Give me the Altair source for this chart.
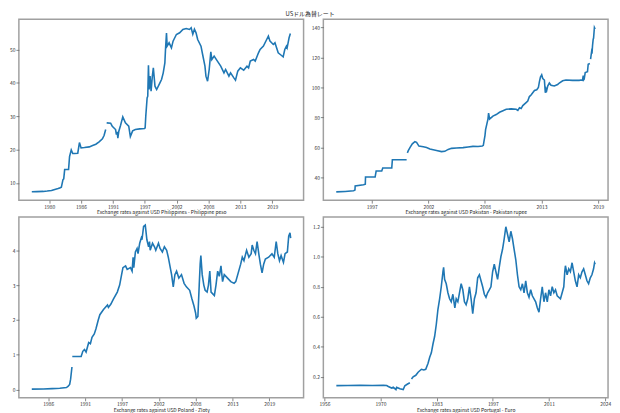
import altair as alt
import pandas as pd

# ---------------- data ----------------
# Philippines - Philippine peso
ph_year_a = [1977.96, 1978.81, 1979.94, 1980.6, 1981.35, 1981.63, 1982.48, 1982.76, 1983.04, 1983.32,
             1983.45, 1983.61, 1984.28, 1984.45, 1984.74, 1985.0, 1985.30, 1985.86, 1986.15, 1986.43,
             1987.0, 1987.84, 1988.41, 1988.97, 1989.53, 1990.10, 1990.38, 1990.66]
ph_val_a = [7.35, 7.38, 7.45, 7.55, 7.7, 7.9, 8.3, 8.5, 8.7, 11.0,
            11.2, 14.0, 14.0, 17.9, 19.9, 18.8, 18.8, 18.9, 22.1, 20.5,
            20.6, 20.8, 21.2, 21.6, 22.3, 23.2, 24.2, 26.0]
ph_year_b = [1990.83, 1991.51, 1991.79, 1992.36, 1992.5, 1992.64, 1992.75, 1992.92, 1993.21, 1993.60,
             1994.05, 1994.62, 1994.90, 1995.29, 1995.75, 1996.5, 1997.33, 1997.44, 1997.55, 1997.78,
             1997.89, 1998.01, 1998.12, 1998.29, 1998.46, 1998.68, 1998.85, 1999.13, 1999.42, 1999.98,
             2000.26, 2000.55, 2000.83, 2000.94, 2001.11, 2001.22, 2001.56, 2001.96, 2002.24, 2002.81,
             2003.37, 2003.93, 2004.50, 2005.06, 2005.35, 2005.63, 2005.91, 2006.19, 2006.47, 2007.04,
             2007.32, 2007.72, 2007.89, 2008.17, 2008.45, 2008.73, 2008.90, 2009.30, 2009.86, 2010.43,
             2010.99, 2011.27, 2011.84, 2012.12, 2012.69, 2012.97, 2013.36, 2013.81, 2014.38, 2014.94,
             2015.22, 2015.51, 2016.07, 2016.36, 2016.92, 2017.20, 2017.77, 2018.33, 2018.62, 2018.90,
             2019.18, 2019.46, 2019.75, 2020.03, 2020.31, 2020.88, 2021.16, 2021.44, 2021.72, 2021.84,
             2022.01, 2022.18, 2022.40]
ph_val_b = [28.0, 27.9, 27.0, 26.0, 24.5, 25.3, 23.4, 25.5, 27.2, 29.8,
            28.0, 27.0, 23.9, 25.6, 26.0, 26.2, 26.3, 26.5, 30.0, 35.5,
            36.0, 45.3, 38.0, 42.0, 37.5, 42.0, 44.5, 39.0, 38.0, 40.0,
            41.0, 43.0, 46.0, 50.0, 54.9, 51.0, 52.0, 50.5, 52.5, 54.5,
            55.0, 56.0, 56.3, 56.0, 56.5, 54.6, 56.1, 55.0, 53.0, 51.0,
            48.5, 45.0, 42.0, 40.5, 44.0, 49.3, 47.0, 48.0, 46.5, 45.0,
            43.0, 44.0, 42.0, 43.0, 41.5, 40.8, 43.5, 44.5, 43.8, 45.0,
            44.5, 46.5, 47.0, 46.5, 49.0, 50.0, 51.0, 53.0, 54.0, 52.5,
            52.0, 51.5, 52.0, 50.5, 49.0, 48.2, 47.8, 50.0, 51.0, 50.5,
            52.0, 53.5, 54.8]

# Pakistan - Pakistan rupee
pk_year_a = [1993.94, 1994.8, 1995.61, 1995.75, 1995.77, 1996.58, 1996.75, 1996.77, 1997.70, 1997.80,
             1998.34, 1998.44, 1999.31, 1999.37, 2000.75]
pk_val_a = [30.5, 30.8, 31.2, 31.8, 34.5, 35.2, 35.6, 40.4, 40.4, 44.4,
            44.4, 46.4, 46.4, 51.9, 51.9]
pk_year_b = [2000.82, 2000.91, 2001.07, 2001.30, 2001.55, 2001.71, 2001.94, 2002.36, 2002.68, 2003.00,
             2003.32, 2003.64, 2004.12, 2004.44, 2004.77, 2005.09, 2005.57, 2006.21, 2006.69, 2007.17,
             2007.66, 2008.07, 2008.17, 2008.23, 2008.33, 2008.39, 2008.52, 2008.62, 2008.68, 2008.78,
             2008.94, 2009.10, 2009.42, 2009.74, 2010.07, 2010.39, 2010.87, 2011.35, 2011.51, 2011.67,
             2011.83, 2011.99, 2012.31, 2012.47, 2012.63, 2012.79, 2013.12, 2013.34, 2013.50, 2013.60,
             2013.70, 2013.82, 2013.92, 2014.08, 2014.17, 2014.24, 2014.30, 2014.40, 2014.56, 2014.72,
             2015.04, 2015.36, 2015.52, 2015.85, 2016.17, 2016.81, 2017.45, 2017.61, 2017.77, 2017.84,
             2017.87, 2017.93, 2018.03, 2018.25, 2018.32, 2018.48]
pk_val_b = [56.5, 58.0, 60.0, 62.5, 64.0, 63.5, 61.0, 60.5, 60.0, 59.0,
            58.5, 58.0, 57.3, 57.5, 58.8, 59.5, 59.7, 60.0, 60.4, 60.8,
            60.7, 61.0, 61.5, 64.0, 68.0, 72.0, 76.0, 79.0, 83.0, 79.0,
            80.0, 81.0, 82.0, 83.5, 84.5, 85.5, 85.8, 85.5, 84.8, 86.5,
            86.0, 88.0, 90.0, 91.0, 94.0, 95.0, 98.0, 98.5, 100.0, 104.0,
            107.0, 108.5, 106.0, 105.0, 96.5, 99.0, 98.0, 101.0, 103.0, 101.5,
            101.0, 102.0, 103.0, 104.5, 105.0, 104.8, 104.8, 105.0, 104.9, 108.0,
            105.0, 105.5, 110.0, 110.5, 115.5, 116.0]
pk_year_c = [2018.55, 2018.6, 2018.66, 2018.7, 2018.74, 2018.8, 2018.84, 2018.88, 2018.92, 2018.99]
pk_val_c = [119.0, 121.5, 124.5, 124.0, 128.0, 132.0, 133.0, 136.5, 140.0, 139.0]

# Poland - Zloty
pl_year_a = [1983.98, 1985.69, 1987.0, 1988.14, 1989.12, 1989.36, 1989.61, 1989.75, 1989.95]
pl_val_a = [0.015, 0.02, 0.03, 0.04, 0.06, 0.09, 0.15, 0.3, 0.65]
pl_year_b = [1990.00, 1991.32, 1991.56, 1991.81, 1992.05, 1992.44, 1992.69, 1992.93, 1993.27, 1993.52,
             1993.86, 1994.10, 1994.64, 1995.23, 1995.37, 1995.72, 1996.11, 1996.69, 1997.04, 1997.33,
             1997.53, 1997.92, 1998.16, 1998.65, 1998.89, 1999.04, 1999.14, 1999.38, 1999.63, 1999.77,
             2000.02, 2000.26, 2000.36, 2000.60, 2000.85, 2001.09, 2001.34, 2001.48, 2001.58, 2001.93,
             2002.22, 2002.41, 2002.81, 2003.05, 2003.39, 2003.69, 2004.03, 2004.27, 2004.76, 2005.01,
             2005.25, 2005.50, 2005.84, 2006.23, 2006.62, 2006.96, 2007.45, 2007.79, 2008.09, 2008.33,
             2008.43, 2008.67, 2008.87, 2009.01, 2009.11, 2009.31, 2009.55, 2009.75, 2010.04, 2010.24,
             2010.44, 2010.63, 2011.12, 2011.36, 2011.61, 2011.85, 2012.10, 2012.34, 2012.59, 2013.08,
             2013.56, 2014.05, 2014.30, 2015.03, 2015.27, 2015.52, 2015.91, 2016.25, 2016.59, 2016.74,
             2016.98, 2017.23, 2017.47, 2017.72, 2017.96, 2018.21, 2018.45, 2018.70, 2019.19, 2019.68,
             2020.02, 2020.31, 2020.55, 2020.80, 2021.04, 2021.39, 2021.63, 2021.97, 2022.17, 2022.36,
             2022.46]
pl_val_b = [0.95, 0.95, 1.1, 1.15, 1.08, 1.35, 1.32, 1.5, 1.6, 1.75,
            2.0, 2.15, 2.3, 2.43, 2.36, 2.45, 2.6, 2.8, 3.0, 3.3,
            3.5, 3.55, 3.45, 3.5, 3.4, 3.8, 3.5, 3.95, 4.05, 3.9,
            4.2, 4.35, 4.3, 4.68, 4.72, 4.3, 4.1, 4.25, 4.0, 4.2,
            4.1, 4.0, 4.2, 4.05, 3.95, 4.1, 4.0, 3.8, 3.3, 2.95,
            3.3, 3.4, 3.2, 3.3, 3.05, 2.95, 2.85, 2.6, 2.4, 2.2,
            2.05, 2.1, 3.0, 3.6, 3.85, 3.3, 3.0, 2.85, 2.8, 3.0,
            3.4, 2.8, 2.7, 3.0, 3.4, 3.25, 3.55, 3.1, 3.3, 3.2,
            3.1, 3.05, 3.1, 3.6, 3.8, 3.7, 4.0, 3.8, 3.9, 4.15,
            4.0, 3.9, 4.25, 3.9, 3.6, 3.35, 3.6, 3.75, 3.8, 3.9,
            3.8, 4.25, 3.9, 3.7, 3.85, 3.65, 3.9, 3.95, 4.4, 4.5,
            4.35]

# Portugal - Euro
pt_year_a = [1959.22, 1962.0, 1965.0, 1968.0, 1970.68, 1971.49, 1971.89, 1972.70, 1973.10, 1973.75,
             1973.91, 1974.31, 1974.71, 1975.52, 1975.92, 1976.49, 1977.14]
pt_val_a = [0.141, 0.142, 0.143, 0.142, 0.143, 0.142, 0.135, 0.125, 0.13, 0.115,
            0.13, 0.125, 0.12, 0.115, 0.14, 0.15, 0.16]
pt_year_b = [1977.54, 1977.94, 1978.59, 1979.15, 1979.96, 1980.53, 1981.01, 1981.58, 1981.98, 1982.38,
             1982.79, 1983.19, 1983.59, 1983.99, 1984.40, 1984.80, 1985.21, 1985.37, 1985.61, 1986.01,
             1986.42, 1986.82, 1987.23, 1987.63, 1988.11, 1988.44, 1988.84, 1989.24, 1989.65, 1990.05,
             1990.45, 1990.86, 1991.26, 1991.67, 1992.07, 1992.47, 1992.88, 1993.28, 1993.68, 1994.09,
             1994.49, 1994.89, 1995.30, 1995.70, 1996.10, 1996.51, 1996.91, 1997.32, 1997.72, 1998.12,
             1998.53, 1998.93, 1999.33, 1999.74, 2000.14, 2000.54, 2000.95, 2001.35, 2001.76, 2002.16,
             2002.56, 2002.97, 2003.37, 2003.77, 2004.18, 2004.58, 2004.98, 2005.39, 2005.79, 2006.19,
             2006.60, 2007.00, 2007.81, 2008.21, 2008.62, 2009.02, 2009.42, 2009.83, 2010.23, 2010.64,
             2011.04, 2011.44, 2011.85, 2012.25, 2012.65, 2013.06, 2013.86, 2014.27, 2014.67, 2014.91,
             2015.07, 2015.48, 2015.88, 2016.28, 2016.69, 2017.09, 2017.49, 2017.90, 2018.30, 2018.70,
             2019.11, 2019.51, 2019.92, 2020.32, 2020.72, 2021.13, 2021.53, 2021.93, 2022.17, 2022.33]
pt_val_b = [0.185, 0.2, 0.21, 0.23, 0.25, 0.245, 0.25, 0.29, 0.33, 0.36,
            0.42, 0.47, 0.55, 0.65, 0.72, 0.8, 0.9, 0.93, 0.85, 0.82,
            0.76, 0.72, 0.7, 0.75, 0.66, 0.72, 0.7, 0.76, 0.82, 0.78,
            0.7, 0.68, 0.72, 0.8, 0.72, 0.62, 0.72, 0.76, 0.86, 0.88,
            0.84, 0.8, 0.75, 0.73, 0.76, 0.78, 0.8, 0.9, 0.95, 0.9,
            0.85, 0.93, 1.0, 1.05, 1.12, 1.2, 1.15, 1.1, 1.17, 1.12,
            1.05, 0.98, 0.88, 0.8, 0.78, 0.82, 0.76, 0.84, 0.76, 0.73,
            0.78, 0.74, 0.7, 0.66, 0.63, 0.72, 0.8, 0.7, 0.76, 0.7,
            0.78, 0.74, 0.8, 0.76, 0.78, 0.74, 0.72, 0.76, 0.8, 0.9,
            0.94, 0.88, 0.92, 0.9, 0.96, 0.9, 0.84, 0.8, 0.88, 0.86,
            0.9, 0.92, 0.88, 0.84, 0.82, 0.86, 0.88, 0.92, 0.96, 0.95]

# tick positions (2000-day / 5000-day steps) and titles
ticks_2000 = [1980.952, 1986.427, 1991.903, 1997.379, 2002.855, 2008.330, 2013.806, 2019.282]
ticks_5000 = [1956.311, 1970.0, 1983.689, 1997.379, 2011.068, 2024.758]
titles = ["Exchange rates against USD Philippines - Philippine peso",
          "Exchange rates against USD Pakistan - Pakistan rupee",
          "Exchange rates against USD Poland - Zloty",
          "Exchange rates against USD Portugal - Euro"]
main_title = "USドル為替レート"

FONT = "Noto Sans CJK JP"


def frame(pieces):
    rows = []
    for i, (ys, vs) in enumerate(pieces):
        for y, v in zip(ys, vs):
            rows.append({"year": y, "value": v, "seg": i})
    return pd.DataFrame(rows)


def panel(df, xdom, xticks, ydom, yticks, yfmt, title):
    return alt.Chart(df).mark_line(color="#1f77b4", strokeWidth=1.6, clip=True).encode(
        x=alt.X("year:Q",
                scale=alt.Scale(domain=xdom, nice=False, zero=False),
                axis=alt.Axis(values=xticks, labelExpr="format(floor(datum.value), 'd')",
                              title=title, labelFlush=False, labelOverlap=False)),
        y=alt.Y("value:Q",
                scale=alt.Scale(domain=ydom, nice=False, zero=False),
                axis=alt.Axis(values=yticks, format=yfmt, title=None, labelOverlap=False)),
        detail="seg:N",
    ).properties(width=288, height=183)


p1 = panel(frame([(ph_year_a, ph_val_a), (ph_year_b, ph_val_b)]),
           [1975.74, 2024.67], ticks_2000, [4.835, 59.07], [10, 20, 30, 40, 50], "d", titles[0])
p2 = panel(frame([(pk_year_a, pk_val_a), (pk_year_b, pk_val_b), (pk_year_c, pk_val_c)]),
           [1992.69, 2020.24], ticks_2000[3:], [25.0, 145.5], [40, 60, 80, 100, 120, 140], "d", titles[1])
p3 = panel(frame([(pl_year_a, pl_val_a), (pl_year_b, pl_val_b)]),
           [1982.06, 2024.38], ticks_2000[1:], [-0.235, 4.955], [0, 1, 2, 3, 4], "d", titles[2])
p4 = panel(frame([(pt_year_a, pt_val_a), (pt_year_b, pt_val_b)]),
           [1956.05, 2025.46], ticks_5000, [0.0595, 1.2655], [0.2, 0.4, 0.6, 0.8, 1.0, 1.2], ".1f", titles[3])

chart = alt.concat(p1, p2, p3, p4, columns=2, spacing={"row": 0, "column": 5}).properties(
    title=alt.TitleParams(main_title, anchor="middle", fontSize=6, font=FONT,
                          fontWeight="normal", color="#222", offset=2),
    padding={"left": 0, "top": 0, "right": 0, "bottom": 0},
).configure_view(
    stroke="#a0a0a0", strokeWidth=1.5
).configure_axis(
    domain=False, grid=False, tickColor="#666", tickSize=3, tickWidth=0.8,
    labelFontSize=5, labelColor="#333", labelFont=FONT, labelPadding=1,
    titleFontSize=5, titleFont=FONT, titleFontWeight="normal", titleColor="#222", titlePadding=1,
)

chart.save("out.html", embed_options={"renderer": "svg", "actions": False})
